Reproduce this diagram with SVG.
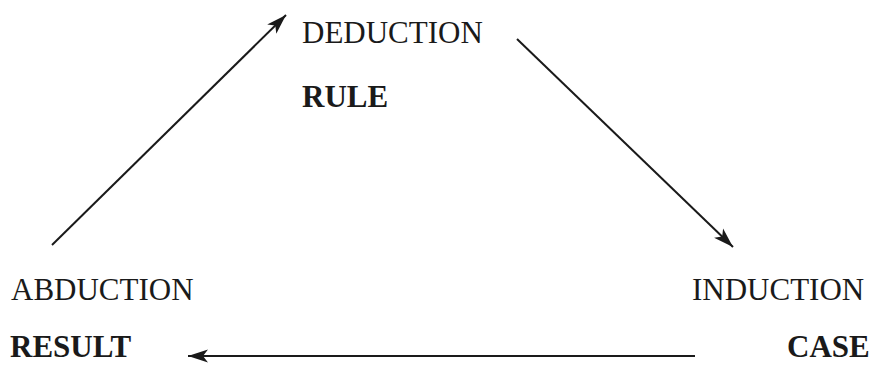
<svg xmlns="http://www.w3.org/2000/svg" width="876" height="365" viewBox="0 0 876 365">
<defs>
<style>
.t{font-family:"Liberation Serif","Times New Roman",serif;font-size:31px;fill:#1a1a1a}
.b{font-weight:bold}
.c{stroke:#1a1a1a;stroke-width:2;fill:none}
</style>
<marker id="ah" markerUnits="userSpaceOnUse" markerWidth="22" markerHeight="14" refX="20" refY="7" orient="auto">
<path d="M0,0.5 L20,7 L0,13.5 L5,7 z" fill="#1a1a1a"/>
</marker>
</defs>
<rect width="876" height="365" fill="#ffffff"/>
<g id="connectors">
<line class="c" x1="52" y1="245" x2="286" y2="15" marker-end="url(#ah)"/>
<line class="c" x1="517" y1="39" x2="733" y2="247" marker-end="url(#ah)"/>
<line class="c" x1="695" y1="356" x2="188" y2="356" marker-end="url(#ah)"/>
</g>
<g id="deduction">
<text class="t" x="302" y="43">DEDUCTION</text>
<text class="t b" x="302" y="107">RULE</text>
</g>
<g id="abduction">
<text class="t" x="11" y="300">ABDUCTION</text>
<text class="t b" x="10" y="357">RESULT</text>
</g>
<g id="induction">
<text class="t" x="692" y="300">INDUCTION</text>
<text class="t b" x="787" y="357">CASE</text>
</g>
</svg>
